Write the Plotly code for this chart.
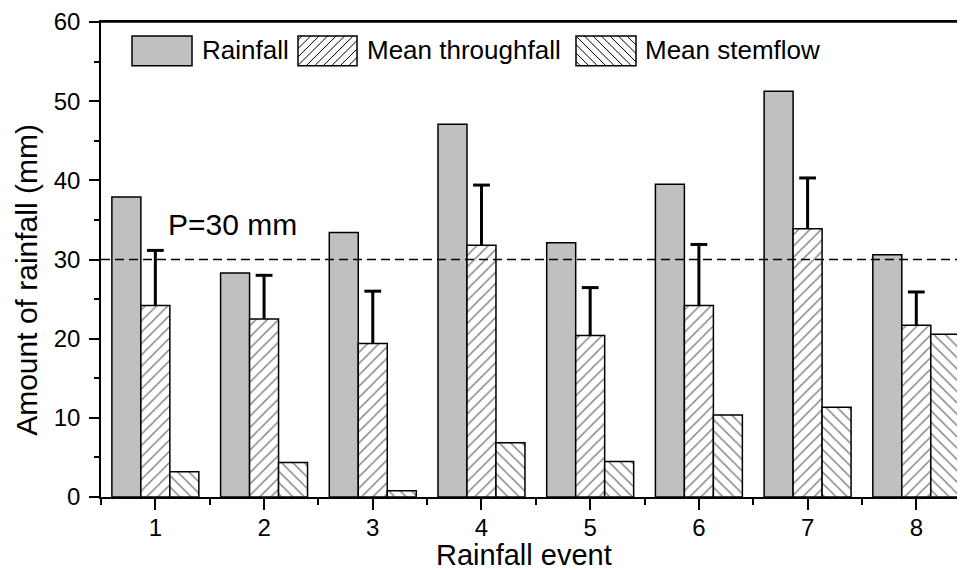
import plotly.graph_objects as go

events = [1, 2, 3, 4, 5, 6, 7, 8]
rainfall = [37.9, 28.3, 33.4, 47.1, 32.1, 39.5, 51.25, 30.6]
throughfall = [24.2, 22.5, 19.4, 31.8, 20.4, 24.2, 33.9, 21.7]
throughfall_err = [6.95, 5.5, 6.6, 7.6, 6.05, 7.7, 6.4, 4.2]
stemflow = [3.2, 4.35, 0.8, 6.85, 4.5, 10.35, 11.35, 20.55]
threshold = 30
series_names = ["Rainfall", "Mean throughfall", "Mean stemflow"]

FONT = "Liberation Sans, Arial, sans-serif"
outline = dict(color="black", width=1.5)
GRAY = "#c0c0c0"

# page body has an 8px default margin; plot area spans screen x 101..965, y 18..497
PX0, PX1, PY0, PY1 = 101.0, 965.0, 18.0, 497.0


def px(sx):
    return (sx - PX0) / (PX1 - PX0)


def py(sy):
    return (PY1 - sy) / (PY1 - PY0)


fig = go.Figure()
fig.add_trace(go.Bar(
    x=events, y=rainfall, name=series_names[0], showlegend=False,
    marker=dict(color=GRAY, line=outline),
))
fig.add_trace(go.Bar(
    x=events, y=throughfall, name=series_names[1], showlegend=False,
    marker=dict(color="white", line=outline,
                pattern=dict(shape="/", fgcolor="black", bgcolor="white",
                             size=8, solidity=0.18, fillmode="overlay")),
))
fig.add_trace(go.Bar(
    x=events, y=stemflow, name=series_names[2], showlegend=False,
    marker=dict(color="white", line=outline,
                pattern=dict(shape="\\", fgcolor="black", bgcolor="white",
                             size=8, solidity=0.18, fillmode="overlay")),
))
# upper error bars of mean throughfall (cap drawn as marker, stem as error bar)
fig.add_trace(go.Scatter(
    x=events, y=[t + e for t, e in zip(throughfall, throughfall_err)],
    mode="markers", showlegend=False, hoverinfo="skip",
    marker=dict(symbol="line-ew-open", size=12, color="black",
                line=dict(color="black", width=3)),
    error_y=dict(type="data", symmetric=False,
                 array=[0] * len(throughfall_err), arrayminus=throughfall_err,
                 color="black", thickness=3, width=0),
))

fig.add_shape(type="line", xref="paper", x0=0, x1=1, yref="y",
              y0=threshold, y1=threshold,
              line=dict(color="black", width=1.5, dash="9px,5px"))
# top frame line
fig.add_shape(type="line", xref="paper", yref="paper", x0=0, x1=1,
              y0=1, y1=1, line=dict(color="black", width=1.5), layer="above")

fig.add_annotation(x=1.098, y=34.4, xref="x", yref="y", text="P=30 mm",
                   showarrow=False, xanchor="left", yanchor="middle",
                   font=dict(family=FONT, size=30, color="black"))

fig.add_annotation(x=px(27), y=py(278), xref="paper", yref="paper",
                   text="Amount of rainfall (mm)", textangle=-90,
                   showarrow=False, xanchor="center", yanchor="middle",
                   font=dict(family=FONT, size=30, color="black"))
fig.add_annotation(x=px(524), y=py(555), xref="paper", yref="paper",
                   text="Rainfall event",
                   showarrow=False, xanchor="center", yanchor="middle",
                   font=dict(family=FONT, size=29, color="black"))


# ----- manual legend with large swatches -----
def hatch_path(x0, x1, y0, y1, kind, step=8.5):
    segs = []
    if kind == "/":
        c = x0 + y0 + step / 2
        while c < x1 + y1:
            xa = max(x0, c - y1)
            xb = min(x1, c - y0)
            segs.append(f"M{px(xa)},{py(c - xa)}L{px(xb)},{py(c - xb)}")
            c += step
    else:
        c = x0 - y1 + step / 2
        while c < x1 - y0:
            xa = max(x0, c + y0)
            xb = min(x1, c + y1)
            segs.append(f"M{px(xa)},{py(xa - c)}L{px(xb)},{py(xb - c)}")
            c += step
    return "".join(segs)


legend_items = [
    (series_names[0], 132, 192, 200, None),
    (series_names[1], 298, 357, 365, "/"),
    (series_names[2], 576, 636, 643, "\\"),
]
SY0, SY1 = 32, 62
for name, sx0, sx1, tx, kind in legend_items:
    fill = GRAY if kind is None else "white"
    fig.add_shape(type="rect", xref="paper", yref="paper",
                  x0=px(sx0), x1=px(sx1), y0=py(SY1), y1=py(SY0),
                  fillcolor=fill, line=dict(color="black", width=1.5),
                  layer="above")
    if kind is not None:
        fig.add_shape(type="path", xref="paper", yref="paper",
                      path=hatch_path(sx0, sx1, SY0, SY1, kind),
                      line=dict(color="black", width=1), layer="above")
    fig.add_annotation(x=px(tx), y=py(46), xref="paper", yref="paper",
                       text=name, showarrow=False, xanchor="left",
                       yanchor="middle",
                       font=dict(family=FONT, size=26, color="black"))

fig.update_layout(
    width=957, height=562,
    margin=dict(l=93, r=0, t=10, b=73),
    paper_bgcolor="white", plot_bgcolor="white",
    barmode="group", bargap=0.2, bargroupgap=0,
    font=dict(family=FONT, color="black"),
    showlegend=False,
    xaxis=dict(
        range=[0.5, 8.448], tickmode="array", tickvals=events,
        ticktext=[str(e) for e in events],
        showline=True, linecolor="black", linewidth=1.5, mirror=True,
        ticks="outside", ticklen=11, tickwidth=1.5, tickcolor="black",
        tickfont=dict(family=FONT, size=24, color="black"),
        showgrid=False, zeroline=False, ticklabeloverflow="allow",
        ticklabelstandoff=-3,
        minor=dict(ticks="outside", ticklen=6, tickwidth=1.5,
                   tickcolor="black", tick0=0.5, dtick=1, showgrid=False),
    ),
    yaxis=dict(
        range=[0, 60], tickmode="linear", tick0=0, dtick=10,
        showline=True, linecolor="black", linewidth=1.5,
        ticks="outside", ticklen=10, tickwidth=1.5, tickcolor="black",
        tickfont=dict(family=FONT, size=24, color="black"),
        showgrid=False, zeroline=False, ticklabeloverflow="allow",
        ticklabelstandoff=4,
        minor=dict(ticks="outside", ticklen=5, tickwidth=1.5,
                   tickcolor="black", dtick=5, showgrid=False),
    ),
)

fig.write_html("out.html")
